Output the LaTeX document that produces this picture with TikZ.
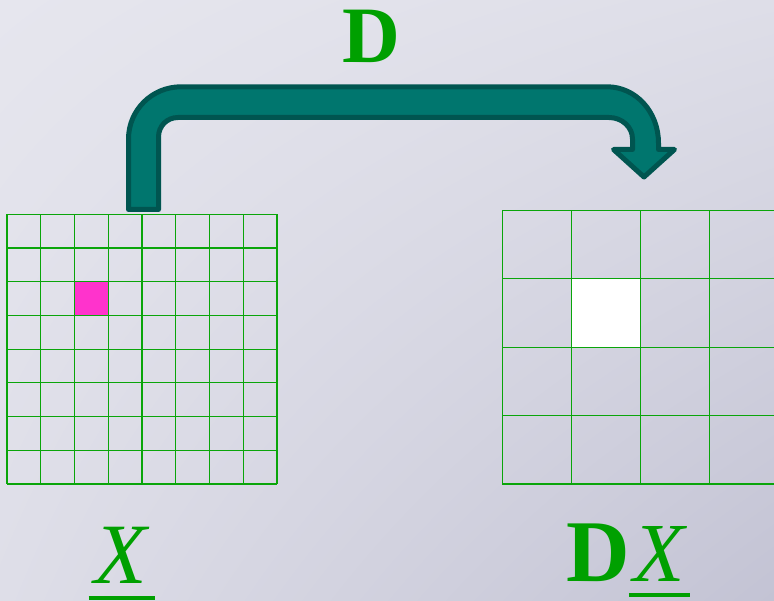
\documentclass[tikz,border=0pt]{standalone}
\usepackage{fontspec}
\setmainfont{Liberation Serif}
\usepackage{tikz}
\usetikzlibrary{shadings}

\definecolor{opgreen}{RGB}{0,160,0}
\definecolor{gridgreen}{RGB}{10,165,10}
\definecolor{tealfill}{RGB}{0,118,110}
\definecolor{tealedge}{RGB}{0,85,80}
\definecolor{hotpink}{RGB}{255,51,204}
\definecolor{bgul}{RGB}{230,230,238}
\definecolor{bgur}{RGB}{222,222,232}
\definecolor{bgll}{RGB}{222,222,232}
\definecolor{bglr}{RGB}{195,195,212}

\begin{document}
\begin{tikzpicture}[x=1pt, y=-1pt,
	gridline/.style={gridgreen, line width=1.1pt},
	lbl/.style={opgreen, inner sep=0pt},
	uline/.style={opgreen, line width=4pt}]
	\useasboundingbox (0,0) rectangle (774,601);
	\clip (0,0) rectangle (774,601);
	\shade[upper left=bgul, upper right=bgur, lower left=bgll, lower right=bglr] (0,0) rectangle (774,601);
	% input image X, 8x8
	\fill[hotpink] (74.5,281.8) rectangle (108.3,315.5);
	\foreach \i in {0,...,8} {
		\draw[gridline] (7+33.75*\i,214.3) -- (7+33.75*\i,484);
		\draw[gridline] (7,214.3+33.71*\i) -- (277,214.3+33.71*\i);
	}
	% downsampled image DX, 4x4
	\fill[white] (571.3,278.7) rectangle (640.3,347.1);
	\foreach \i in {0,...,4} {
		\draw[gridline] (502.3+69*\i,210.3) -- (502.3+69*\i,484);
		\draw[gridline] (502.3,210.3+68.43*\i) -- (780,210.3+68.43*\i);
	}
	% the operator arrow
	\coordinate (from) at (143.5,209.5);
	\coordinate (to) at (644,177);
	\filldraw[fill=tealfill, draw=tealedge, line width=5pt, line join=round]
		(128.5,209.5) -- (128.5,139)
		.. controls (128.5,110) and (152,86.8) .. (181,86.8)
		-- (607,86.8)
		.. controls (636,86.8) and (658.5,112) .. (658.5,143)
		-- (658.5,149.5) -- (674.5,149.5) -- (to) -- (613.5,149.5) -- (632.5,149.5)
		-- (632.5,139)
		.. controls (632.5,127) and (622,117.5) .. (609,117.5)
		-- (178,117.5)
		.. controls (167,117.5) and (158.5,126) .. (158.5,137)
		-- (158.5,209.5) -- cycle;
	\node[lbl, anchor=base, font=\fontsize{80}{90}\selectfont\bfseries] (op) at (371,63) {D};
	\node[lbl, anchor=base, font=\fontsize{86}{96}\selectfont\itshape] (xlab) at (121,583) {X};
	\draw[uline] ([xshift=-6pt,yshift=-15pt]xlab.south west) -- ([xshift=8pt,yshift=-15pt]xlab.south east);
	\node[lbl, anchor=base, font=\fontsize{88}{96}\selectfont\bfseries] (dxd) at (598,581) {D};
	\node[lbl, anchor=base west, font=\fontsize{84}{96}\selectfont\itshape] (dxx) at ([xshift=3pt]dxd.base east) {X};
	\draw[uline] ([xshift=-4pt,yshift=-14pt]dxx.south west) -- ([xshift=5pt,yshift=-14pt]dxx.south east);
\end{tikzpicture}
\end{document}
